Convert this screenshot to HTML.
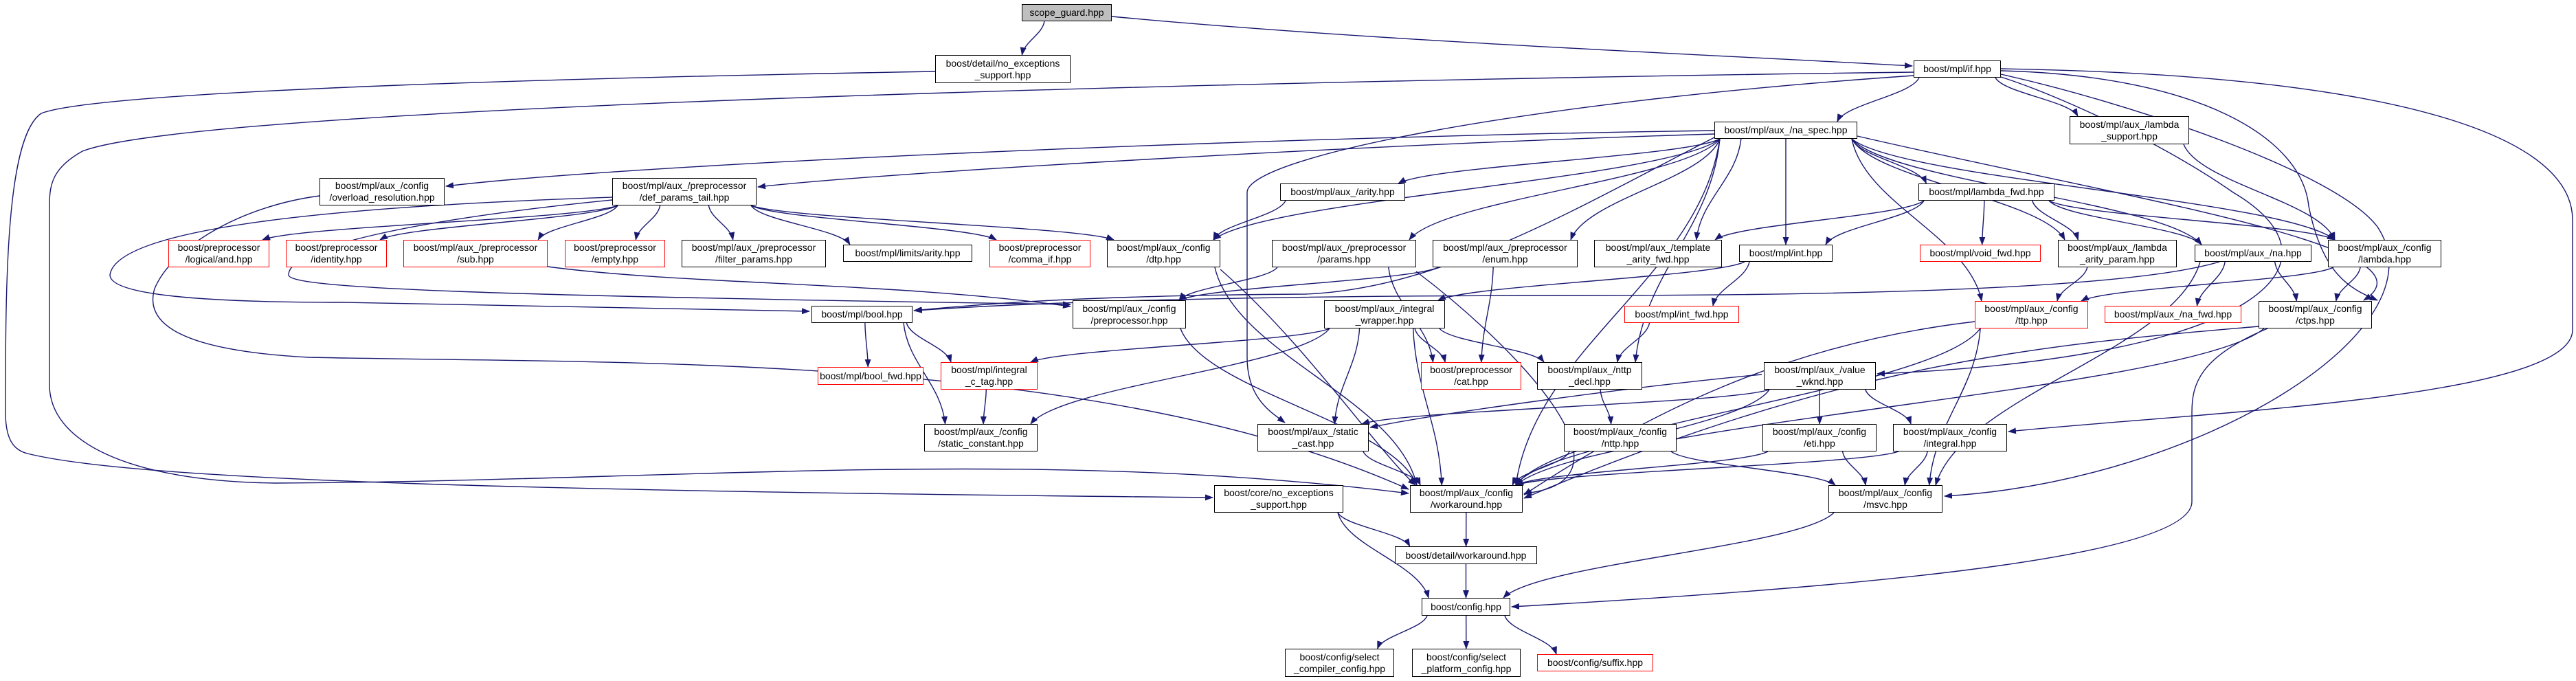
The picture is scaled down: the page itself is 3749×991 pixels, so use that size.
<!DOCTYPE html>
<html><head><meta charset="utf-8"><style>
html,body{margin:0;padding:0;background:#fff;}
body{width:3749px;height:991px;position:relative;overflow:hidden;font-family:"Liberation Sans",sans-serif;}
.n{position:absolute;box-sizing:border-box;border:1.5px solid #000;background:#fff;display:flex;align-items:center;justify-content:center;text-align:center;font-size:14px;line-height:17px;color:#000;white-space:nowrap;}
.r{border-color:#f00;}
.g{background:#bfbfbf;}
svg{position:absolute;left:0;top:0;}
</style></head><body>
<svg id="s" width="3749" height="991" viewBox="0 0 3749 991">
<defs><marker id="a" markerWidth="12" markerHeight="9" refX="11" refY="4.5" orient="auto" markerUnits="userSpaceOnUse"><path d="M0,0 L12,4.5 L0,9 z" fill="#191970"/></marker></defs>
<g id="e" fill="none" stroke="#191970" stroke-width="1.4"></g>
</svg>
<div class="n g" style="left:1487px;top:6px;width:131px;height:25px">scope_guard.hpp</div>
<div class="n" style="left:1361px;top:80px;width:197px;height:41px">boost/detail/no_exceptions<br>_support.hpp</div>
<div class="n" style="left:2785px;top:88px;width:127px;height:25px">boost/mpl/if.hpp</div>
<div class="n" style="left:2495px;top:177px;width:208px;height:25px">boost/mpl/aux_/na_spec.hpp</div>
<div class="n" style="left:3012px;top:169px;width:174px;height:41px">boost/mpl/aux_/lambda<br>_support.hpp</div>
<div class="n" style="left:465px;top:259px;width:182px;height:40px">boost/mpl/aux_/config<br>/overload_resolution.hpp</div>
<div class="n" style="left:891px;top:259px;width:210px;height:40px">boost/mpl/aux_/preprocessor<br>/def_params_tail.hpp</div>
<div class="n" style="left:1863px;top:267px;width:182px;height:25px">boost/mpl/aux_/arity.hpp</div>
<div class="n" style="left:2792px;top:267px;width:198px;height:25px">boost/mpl/lambda_fwd.hpp</div>
<div class="n r" style="left:245px;top:349px;width:147px;height:40px">boost/preprocessor<br>/logical/and.hpp</div>
<div class="n r" style="left:416px;top:349px;width:147px;height:40px">boost/preprocessor<br>/identity.hpp</div>
<div class="n r" style="left:587px;top:349px;width:210px;height:40px">boost/mpl/aux_/preprocessor<br>/sub.hpp</div>
<div class="n r" style="left:822px;top:349px;width:146px;height:40px">boost/preprocessor<br>/empty.hpp</div>
<div class="n" style="left:992px;top:349px;width:210px;height:40px">boost/mpl/aux_/preprocessor<br>/filter_params.hpp</div>
<div class="n" style="left:1227px;top:356px;width:188px;height:25px">boost/mpl/limits/arity.hpp</div>
<div class="n r" style="left:1440px;top:349px;width:147px;height:40px">boost/preprocessor<br>/comma_if.hpp</div>
<div class="n" style="left:1611px;top:349px;width:165px;height:40px">boost/mpl/aux_/config<br>/dtp.hpp</div>
<div class="n" style="left:1851px;top:349px;width:210px;height:40px">boost/mpl/aux_/preprocessor<br>/params.hpp</div>
<div class="n" style="left:2085px;top:349px;width:211px;height:40px">boost/mpl/aux_/preprocessor<br>/enum.hpp</div>
<div class="n" style="left:2320px;top:349px;width:186px;height:40px">boost/mpl/aux_/template<br>_arity_fwd.hpp</div>
<div class="n" style="left:2531px;top:356px;width:136px;height:25px">boost/mpl/int.hpp</div>
<div class="n r" style="left:2794px;top:356px;width:176px;height:25px">boost/mpl/void_fwd.hpp</div>
<div class="n" style="left:2995px;top:349px;width:173px;height:40px">boost/mpl/aux_/lambda<br>_arity_param.hpp</div>
<div class="n" style="left:3194px;top:356px;width:170px;height:25px">boost/mpl/aux_/na.hpp</div>
<div class="n" style="left:3388px;top:349px;width:165px;height:40px">boost/mpl/aux_/config<br>/lambda.hpp</div>
<div class="n" style="left:1181px;top:445px;width:147px;height:25px">boost/mpl/bool.hpp</div>
<div class="n" style="left:1561px;top:437px;width:165px;height:41px">boost/mpl/aux_/config<br>/preprocessor.hpp</div>
<div class="n" style="left:1927px;top:437px;width:176px;height:41px">boost/mpl/aux_/integral<br>_wrapper.hpp</div>
<div class="n r" style="left:2364px;top:445px;width:167px;height:25px">boost/mpl/int_fwd.hpp</div>
<div class="n r" style="left:2874px;top:438px;width:165px;height:40px">boost/mpl/aux_/config<br>/ttp.hpp</div>
<div class="n r" style="left:3063px;top:445px;width:199px;height:25px">boost/mpl/aux_/na_fwd.hpp</div>
<div class="n" style="left:3287px;top:438px;width:165px;height:40px">boost/mpl/aux_/config<br>/ctps.hpp</div>
<div class="n r" style="left:1190px;top:534px;width:154px;height:26px">boost/mpl/bool_fwd.hpp</div>
<div class="n r" style="left:1369px;top:527px;width:141px;height:40px">boost/mpl/integral<br>_c_tag.hpp</div>
<div class="n r" style="left:2068px;top:527px;width:146px;height:40px">boost/preprocessor<br>/cat.hpp</div>
<div class="n" style="left:2237px;top:527px;width:153px;height:40px">boost/mpl/aux_/nttp<br>_decl.hpp</div>
<div class="n" style="left:2567px;top:527px;width:163px;height:40px">boost/mpl/aux_/value<br>_wknd.hpp</div>
<div class="n" style="left:1345px;top:617px;width:165px;height:40px">boost/mpl/aux_/config<br>/static_constant.hpp</div>
<div class="n" style="left:1830px;top:617px;width:162px;height:40px">boost/mpl/aux_/static<br>_cast.hpp</div>
<div class="n" style="left:2276px;top:617px;width:164px;height:40px">boost/mpl/aux_/config<br>/nttp.hpp</div>
<div class="n" style="left:2565px;top:617px;width:166px;height:40px">boost/mpl/aux_/config<br>/eti.hpp</div>
<div class="n" style="left:2755px;top:617px;width:166px;height:40px">boost/mpl/aux_/config<br>/integral.hpp</div>
<div class="n" style="left:1767px;top:706px;width:188px;height:40px">boost/core/no_exceptions<br>_support.hpp</div>
<div class="n" style="left:2052px;top:706px;width:164px;height:40px">boost/mpl/aux_/config<br>/workaround.hpp</div>
<div class="n" style="left:2661px;top:706px;width:166px;height:40px">boost/mpl/aux_/config<br>/msvc.hpp</div>
<div class="n" style="left:2030px;top:795px;width:207px;height:26px">boost/detail/workaround.hpp</div>
<div class="n" style="left:2069px;top:870px;width:129px;height:26px">boost/config.hpp</div>
<div class="n" style="left:1870px;top:944px;width:159px;height:41px">boost/config/select<br>_compiler_config.hpp</div>
<div class="n" style="left:2055px;top:944px;width:158px;height:41px">boost/config/select<br>_platform_config.hpp</div>
<div class="n r" style="left:2237px;top:952px;width:169px;height:25px">boost/config/suffix.hpp</div>
<script>
var N={sg:[1487,1618,6,31],dnoex:[1361,1558,80,121],iff:[2785,2912,88,113],naspec:[2495,2703,177,202],lsup:[3012,3186,169,210],ovl:[465,647,259,299],dpt:[891,1101,259,299],arity:[1863,2045,267,292],lfwd:[2792,2990,267,292],and:[245,392,349,389],ident:[416,563,349,389],sub:[587,797,349,389],empty:[822,968,349,389],filt:[992,1202,349,389],larity:[1227,1415,356,381],comma:[1440,1587,349,389],dtp:[1611,1776,349,389],params:[1851,2061,349,389],enm:[2085,2296,349,389],taf:[2320,2506,349,389],int:[2531,2667,356,381],voidf:[2794,2970,356,381],lap:[2995,3168,349,389],na:[3194,3364,356,381],clam:[3388,3553,349,389],bool:[1181,1328,445,470],cpp:[1561,1726,437,478],iw:[1927,2103,437,478],intfwd:[2364,2531,445,470],ttp:[2874,3039,438,478],nafwd:[3063,3262,445,470],ctps:[3287,3452,438,478],boolfwd:[1190,1344,534,560],ictag:[1369,1510,527,567],cat:[2068,2214,527,567],nttpd:[2237,2390,527,567],vw:[2567,2730,527,567],sc:[1345,1510,617,657],scast:[1830,1992,617,657],nttp:[2276,2440,617,657],eti:[2565,2731,617,657],integ:[2755,2921,617,657],core:[1767,1955,706,746],wa:[2052,2216,706,746],msvc:[2661,2827,706,746],dwa:[2030,2237,795,821],cfg:[2069,2198,870,896],selc:[1870,2029,944,985],selp:[2055,2213,944,985],suf:[2237,2406,952,977]};
var P=[];
function cl(v,a,b){return Math.max(a,Math.min(b,v));}
function E(a,b){var A=N[a],B=N[b],ac=(A[0]+A[1])/2,bc=(B[0]+B[1])/2;
var sx=cl(ac+(bc-ac)*0.35,A[0]+8,A[1]-8),ex=cl(bc+(ac-bc)*0.3,B[0]+10,B[1]-10),sy=A[3],ey=B[2];
var d=(ey-sy)*0.4;P.push('M'+sx+','+sy+' C'+(sx+(ex-sx)*0.1)+','+(sy+d)+' '+(ex-(ex-sx)*0.1)+','+(ey-d)+' '+ex+','+ey);}
function R(d){P.push(d);}
[['sg','dnoex'],['iff','naspec'],['iff','lsup'],['naspec','arity'],['naspec','dtp'],['naspec','params'],['naspec','enm'],['naspec','taf'],['naspec','int'],['naspec','lfwd'],['naspec','lap'],['naspec','na'],['naspec','clam'],['naspec','ttp'],['naspec','nttpd'],['naspec','wa'],
['dpt','and'],['dpt','ident'],['dpt','sub'],['dpt','empty'],['dpt','filt'],['dpt','larity'],['dpt','comma'],['dpt','dtp'],['arity','dtp'],['params','cpp'],['params','cat'],['enm','cpp'],['enm','cat'],['dtp','wa'],['cpp','wa'],
['lfwd','taf'],['lfwd','int'],['lfwd','voidf'],['lfwd','lap'],['lfwd','na'],['lfwd','clam'],['lsup','clam'],['clam','ttp'],['clam','ctps'],['na','nafwd'],['na','ctps'],['na','msvc'],['lap','ttp'],['int','iw'],['int','intfwd'],['intfwd','nttpd'],
['iw','ictag'],['iw','sc'],['iw','cat'],['iw','nttpd'],['iw','scast'],['iw','wa'],['bool','boolfwd'],['bool','ictag'],['bool','sc'],['ictag','sc'],['scast','wa'],['nttpd','nttp'],['nttp','wa'],['nttp','msvc'],['ttp','wa'],['ttp','msvc'],
['vw','scast'],['vw','eti'],['vw','integ'],['vw','wa'],['eti','wa'],['eti','msvc'],['integ','wa'],['integ','msvc'],['msvc','cfg'],['wa','dwa'],['dwa','cfg'],['core','dwa'],['core','cfg'],['cfg','selc'],['cfg','selp'],['cfg','suf'],['ctps','wa']].forEach(function(x){E(x[0],x[1]);});
R('M1618,24 C2000,60 2500,80 2783,96');
R('M1361,104 C900,112 150,130 60,165 C8,200 8,420 8,600 C8,640 20,655 40,660 C200,700 800,715 1765,724');
R('M2785,105 C2000,115 300,150 120,220 C75,245 72,270 72,300 L72,560 C72,640 180,700 400,703 C1000,700 1500,650 2050,718');
R('M2495,190 C1800,200 900,240 649,271');
R('M2495,195 C2000,210 1300,250 1103,272');
R('M465,285 C350,300 250,360 225,420 C210,470 260,510 450,520 C900,530 1600,510 2050,712');
R('M891,287 C500,300 170,330 160,400 C160,430 300,440 500,440 C800,445 1000,450 1178,453');
R('M2495,200 C2300,300 2100,420 1900,428 C1600,430 1450,440 1330,452');
R('M797,388 C1000,415 1300,410 1558,446');
R('M891,291 C600,320 420,360 420,400 C420,420 700,430 1558,443');
R('M2785,110 C2200,150 1815,230 1815,280 L1815,520 C1815,580 1850,600 1870,615');
R('M3230,381 C3100,420 2700,430 2300,430 C1800,430 1500,440 1331,452');
R('M3300,478 C3200,520 3190,560 3190,600 L3190,730 C3190,820 2600,860 2200,883');
R('M2912,100 C3500,110 3744,200 3744,320 L3744,480 C3744,580 3200,600 2923,628');
R('M2912,103 C3200,110 3350,200 3360,300 C3380,400 3420,420 3460,437');
R('M2912,108 C3100,150 3400,250 3460,330 C3560,480 3200,700 2830,722');
R('M2912,112 C3000,140 3150,210 3250,280 C3420,380 3300,520 2732,544');
R('M2703,198 C3100,290 3560,360 3440,437');
R('M2874,468 C2600,500 2400,600 2218,720');
R('M3287,475 C3000,500 2700,520 2218,725');
R('M2564,545 C2400,560 2100,600 1994,622');
R('M2061,395 C2200,500 2400,700 2218,718');
R('M1776,392 C1900,500 2000,650 2060,706');
document.getElementById('e').innerHTML=P.map(function(d){return '<path d="'+d+'" marker-end="url(#a)"/>';}).join('');
</script>
</body></html>
